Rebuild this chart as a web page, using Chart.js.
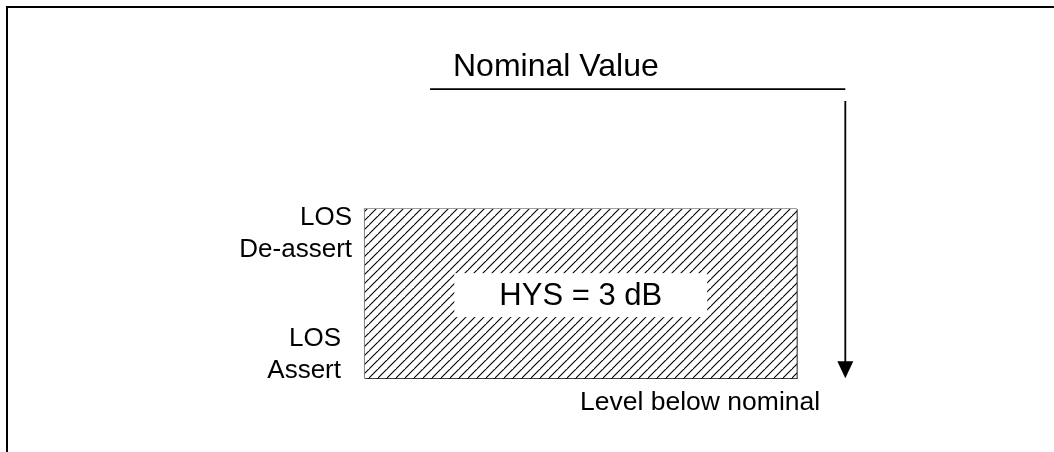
<!DOCTYPE html>
<html>
<head>
<meta charset="utf-8">
<script src="https://cdn.jsdelivr.net/npm/chart.js@4/dist/chart.umd.min.js"></script>
<style>
  html, body { margin: 0; padding: 0; background: #fff; }
  #wrap { position: relative; width: 1054px; height: 452px; overflow: hidden; }
  #frame { position: absolute; left: 6px; top: 6px; right: -10px; bottom: -10px;
           border-top: 2px solid #000; border-left: 2px solid #000; pointer-events: none; }
  canvas { position: absolute; left: 0; top: 0; }
</style>
</head>
<body>
<div id="wrap">
  <canvas id="c" width="1054" height="452"></canvas>
  <div id="frame"></div>
</div>
<script>
// ---- data (levels in dB below nominal; horizontal position in arbitrary units 0..100) ----
const nominalLevel = 0;          // dB
const deassertLevel = 2.13;      // dB below nominal (LOS De-assert)
const assertLevel = 5.13;        // dB below nominal (LOS Assert)
const hysteresisLabel = "HYS = 3 dB";
const bandX = [34.6, 75.6];      // extent of the hysteresis band
const nominalLineX = [40.8, 80.2];
const arrowX = 80.2;
const arrowLevels = [0.21, 5.13];
const labelTexts = ["Nominal Value", "LOS", "De-assert", "LOS", "Assert", "Level below nominal"];
const labelX = [42.98, 33.4, 33.4, 32.35, 32.35, 55.03];
const labelY = [-0.23, 2.41, 2.98, 4.56, 5.13, 5.70];
const labelAlign = ["left", "right", "right", "right", "right", "left"];
const labelSize = [32, 26, 26, 26, 26, 26.5];

const FONT = '"Liberation Sans", Arial, Helvetica, sans-serif';

// hatch pattern
function makeHatch() {
  const s = 9;
  const p = document.createElement('canvas');
  p.width = s; p.height = s;
  const g = p.getContext('2d');
  g.fillStyle = '#fff'; g.fillRect(0, 0, s, s);
  g.strokeStyle = '#000'; g.lineWidth = 1.1;
  g.beginPath();
  g.moveTo(-1, s + 1); g.lineTo(s + 1, -1);
  g.moveTo(-1 - s, s + 1); g.lineTo(1, -1);
  g.moveTo(s - 1, 2 * s + 1); g.lineTo(2 * s + 1, s - 1);
  g.stroke();
  return document.getElementById('c').getContext('2d').createPattern(p, 'repeat');
}
const hatch = makeHatch();

const textPlugin = {
  id: 'diagramText',
  afterDatasetsDraw(chart) {
    const ctx = chart.ctx, xs = chart.scales.x, ys = chart.scales.y;
    ctx.save();
    // white box with hysteresis text in the centre of the band
    const cx = xs.getPixelForValue((bandX[0] + bandX[1]) / 2);
    const cy = ys.getPixelForValue((deassertLevel + assertLevel) / 2) + 1.5;
    ctx.font = '31px ' + FONT;
    const tw = ctx.measureText(hysteresisLabel).width;
    const bw = tw + 90, bh = 44;
    ctx.fillStyle = '#fff';
    ctx.fillRect(cx - bw / 2, cy - bh / 2, bw, bh);
    ctx.fillStyle = '#000';
    ctx.textAlign = 'center';
    ctx.textBaseline = 'alphabetic';
    ctx.fillText(hysteresisLabel, cx, cy + 10);
    // labels
    labelTexts.forEach((t, i) => {
      ctx.font = labelSize[i] + 'px ' + FONT;
      ctx.textAlign = labelAlign[i];
      ctx.fillText(t, xs.getPixelForValue(labelX[i]), ys.getPixelForValue(labelY[i]));
    });
    // arrow head
    const ax = xs.getPixelForValue(arrowX);
    const ay = ys.getPixelForValue(arrowLevels[1]);
    ctx.beginPath();
    ctx.moveTo(ax, ay);
    ctx.lineTo(ax - 8, ay - 17);
    ctx.lineTo(ax + 8, ay - 17);
    ctx.closePath();
    ctx.fill();
    ctx.restore();
  }
};

new Chart(document.getElementById('c'), {
  type: 'scatter',
  data: {
    datasets: [
      { // band top edge, filled to band bottom edge
        data: [{x: bandX[0], y: deassertLevel}, {x: bandX[1], y: deassertLevel}],
        showLine: true, borderWidth: 0, borderColor: 'rgba(0,0,0,0)', pointRadius: 0,
        fill: '+1', backgroundColor: hatch
      },
      {
        data: [{x: bandX[0], y: assertLevel}, {x: bandX[1], y: assertLevel}],
        showLine: true, borderWidth: 0, borderColor: 'rgba(0,0,0,0)', pointRadius: 0, fill: false
      },
      { // band outline: left & top (grey)
        data: [{x: bandX[0], y: assertLevel}, {x: bandX[0], y: deassertLevel}, {x: bandX[1], y: deassertLevel}],
        showLine: true, borderWidth: 1.5, borderColor: '#7f7f7f', pointRadius: 0, fill: false
      },
      { // band outline: right & bottom (black)
        data: [{x: bandX[1], y: deassertLevel}, {x: bandX[1], y: assertLevel}, {x: bandX[0], y: assertLevel}],
        showLine: true, borderWidth: 1.5, borderColor: '#000', pointRadius: 0, fill: false
      },
      { // nominal value line
        data: [{x: nominalLineX[0], y: nominalLevel}, {x: nominalLineX[1], y: nominalLevel}],
        showLine: true, borderWidth: 1.8, borderColor: '#000', pointRadius: 0, fill: false
      },
      { // arrow shaft
        data: [{x: arrowX, y: arrowLevels[0]}, {x: arrowX, y: arrowLevels[1] - 0.2}],
        showLine: true, borderWidth: 1.8, borderColor: '#000', pointRadius: 0, fill: false
      }
    ]
  },
  options: {
    responsive: false,
    animation: false,
    devicePixelRatio: 1,
    layout: { padding: 0 },
    plugins: { legend: { display: false }, tooltip: { enabled: false } },
    events: [],
    scales: {
      x: { type: 'linear', display: false, min: 0, max: 100 },
      y: { type: 'linear', display: false, reverse: true, min: -1.58, max: 6.44 }
    }
  },
  plugins: [textPlugin]
});
</script>
</body>
</html>
